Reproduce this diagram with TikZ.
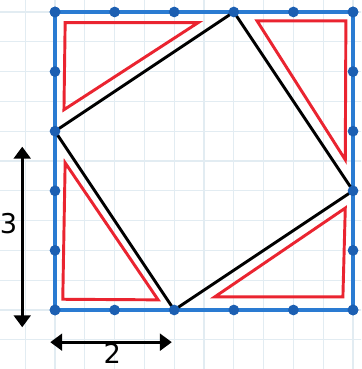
\documentclass[tikz,border=0pt]{standalone}
\usepackage{fontspec}
\setmainfont{DejaVu Sans}
\usetikzlibrary{arrows.meta}
\definecolor{gridblue}{HTML}{E2ECF2}
\definecolor{frameblue}{HTML}{2A7BD2}
\definecolor{dotblue}{HTML}{1C5FB2}
\definecolor{penred}{HTML}{EA2430}
\tikzset{
  pegdot/.style={circle, fill=dotblue, inner sep=0pt, minimum size=0.18cm},
  frameline/.style={draw=frameblue, line width=1.9pt},
  redtri/.style={draw=penred, line width=1.4pt},
  tiltsq/.style={draw=black, line width=1.4pt},
  dimarrow/.style={line width=1.4pt, {Triangle[length=0.2cm, width=0.28cm]}-{Triangle[length=0.2cm, width=0.28cm]}},
  dimlabel/.style={font=\fontsize{13}{13}\selectfont, inner sep=0pt}
}
\begin{document}
\begin{tikzpicture}
        % paper and grid
        \useasboundingbox[fill=white] (-0.923,-0.990) rectangle (5.134,5.201);
        \clip (-0.923,-0.990) rectangle (5.134,5.201);
        \draw[gridblue, line width=0.6pt] (-1,-1) grid[step=0.5] (5.5,5.5);

        % points on the sides
        \foreach \i in {0,...,5} {
            \coordinate (b\i) at (\i,0);
            \coordinate (t\i) at (\i,5);
            \coordinate (l\i) at (0,\i);
            \coordinate (r\i) at (5,\i);
        }

        % outer square
        \draw[frameline] (b0) -- (b5) -- (t5) -- (t0) -- cycle;

        % corner triangles
        \draw[redtri] (0.17,4.82) -- (2.40,4.82) -- (0.15,3.36) -- cycle;
        \draw[redtri] (3.39,4.85) -- (4.88,4.85) -- (4.87,2.52) -- cycle;
        \draw[redtri] (0.17,2.47) -- (0.13,0.18) -- (1.73,0.17) -- cycle;
        \draw[redtri] (2.68,0.22) -- (4.83,0.22) -- (4.87,1.71) -- cycle;

        % tilted square
        \draw[tiltsq] (l3) -- (t3) -- (r2) -- (b2) -- cycle;

        % dots
        \foreach \i in {0,...,5} {
            \node[pegdot] (db\i) at (b\i) {};
            \node[pegdot] (dt\i) at (t\i) {};
            \node[pegdot] (dl\i) at (l\i) {};
            \node[pegdot] (dr\i) at (r\i) {};
        }

        % lengths
        \coordinate (vtop) at (-0.55,2.74);
        \coordinate (vbot) at (-0.55,-0.29);
        \coordinate (hleft) at (-0.08,-0.54);
        \coordinate (hright) at (1.96,-0.54);
        \draw[dimarrow] (vtop) -- (vbot);
        \draw[dimarrow] (hleft) -- (hright);
        \node[dimlabel] (three) at (-0.78,1.45) {3};
        \node[dimlabel] (two) at (0.96,-0.73) {2};
\end{tikzpicture}
\end{document}
